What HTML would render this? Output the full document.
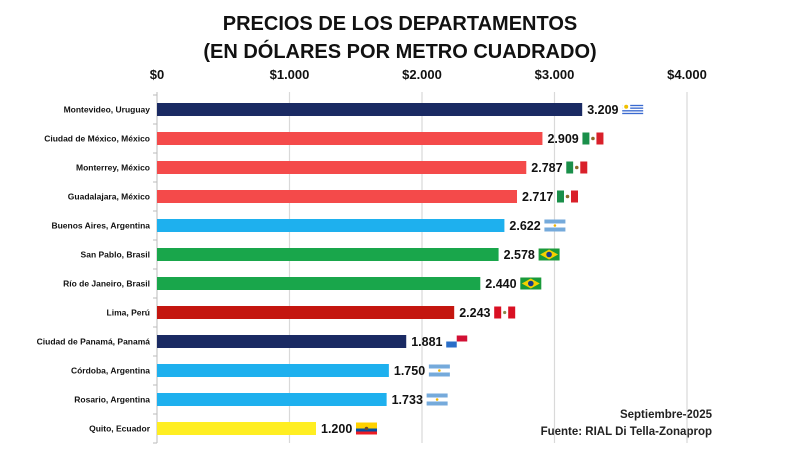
<!DOCTYPE html>
<html><head><meta charset="utf-8"><style>
body{margin:0;background:#fff;}
svg{display:block;font-family:"Liberation Sans",Arial,sans-serif;}
</style></head><body>
<svg id="c" width="800" height="450">
<text x="400" y="30" text-anchor="middle" font-size="20" font-weight="bold" fill="#111">PRECIOS DE LOS DEPARTAMENTOS</text>
<text x="400" y="58" text-anchor="middle" font-size="20" font-weight="bold" fill="#111">(EN DÓLARES POR METRO CUADRADO)</text>
<text x="712" y="418" text-anchor="end" font-size="11.5" font-weight="bold" fill="#222">Septiembre-2025</text>
<text x="712" y="435" text-anchor="end" font-size="11.5" font-weight="bold" fill="#222">Fuente: RIAL Di Tella-Zonaprop</text>
</svg>
<script>
const categories=["Montevideo, Uruguay","Ciudad de México, México","Monterrey, México","Guadalajara, México","Buenos Aires, Argentina","San Pablo, Brasil","Río de Janeiro, Brasil","Lima, Perú","Ciudad de Panamá, Panamá","Córdoba, Argentina","Rosario, Argentina","Quito, Ecuador"];
const values=[3209,2909,2787,2717,2622,2578,2440,2243,1881,1750,1733,1200];
const valueLabels=["3.209","2.909","2.787","2.717","2.622","2.578","2.440","2.243","1.881","1.750","1.733","1.200"];
const countries=["uy","mx","mx","mx","ar","br","br","pe","pa","ar","ar","ec"];
const tickValues=[0,1000,2000,3000,4000];
const tickLabels=["$0","$1.000","$2.000","$3.000","$4.000"];

const NS="http://www.w3.org/2000/svg";
const svg=document.getElementById('c');
const x0=157,x1=687,maxV=4000,topY=95,step=29,barH=13;
const xs=v=>x0+(v/maxV)*(x1-x0);
const yc=i=>topY+step*(i+0.5);
const colors={uy:"#1a2a63",mx:"#f44a4a",ar:"#1eb0ee",br:"#19a64b",pe:"#c4160f",pa:"#1a2a63",ec:"#ffee22"};
function mk(t,a,p){const e=document.createElementNS(NS,t);for(const k in a)e.setAttribute(k,a[k]);(p||svg).appendChild(e);return e;}
const bottomY=topY+step*categories.length;
tickValues.forEach((v,i)=>{
  if(v>0){const g=mk('line',{x1:xs(v),x2:xs(v),y1:topY-3,y2:bottomY,stroke:'#d9d9d9','stroke-width':1.2});
  
  }
  const t=mk('text',{x:xs(v),y:79,'text-anchor':'middle','font-size':13,'font-weight':'bold',fill:'#111'});
  t.textContent=tickLabels[i];
  
  
});
const ax=mk('line',{x1:x0,x2:x0,y1:topY-3,y2:bottomY,stroke:'#bbb','stroke-width':1});


for(let i=0;i<=categories.length;i++){mk('line',{x1:x0-4,x2:x0,y1:topY+step*i,y2:topY+step*i,stroke:'#bbb'});}
function flag(c,fx,fy){
  const g=mk('g',{transform:`translate(${fx},${fy})`});
  
  
  const w=21,h=12;
  if(c==='mx'){mk('rect',{width:7,height:h,fill:'#1a8f4a'},g);mk('rect',{x:7,width:7,height:h,fill:'#fff'},g);mk('rect',{x:14,width:7,height:h,fill:'#d9202a'},g);mk('circle',{cx:10.5,cy:6,r:1.8,fill:'#8a6a2a'},g);}
  else if(c==='ar'){mk('rect',{width:w,height:h,fill:'#fff'},g);mk('rect',{width:w,height:4,fill:'#75aadb'},g);mk('rect',{y:8,width:w,height:4,fill:'#75aadb'},g);mk('circle',{cx:10.5,cy:6,r:1.3,fill:'#f0b400'},g);}
  else if(c==='br'){mk('rect',{width:w,height:h,fill:'#1a9a3a'},g);mk('polygon',{points:'10.5,1 19.5,6 10.5,11 1.5,6',fill:'#f5d000'},g);mk('circle',{cx:10.5,cy:6,r:2.8,fill:'#1a3a8a'},g);}
  else if(c==='pe'){mk('rect',{width:w,height:h,fill:'#d91023'},g);mk('rect',{x:7,width:7,height:h,fill:'#fff'},g);mk('circle',{cx:10.5,cy:6,r:1.6,fill:'#8a8a4a'},g);}
  else if(c==='uy'){mk('rect',{width:w,height:h,fill:'#fff'},g);for(let k=1;k<9;k+=2)mk('rect',{y:k*1.33,width:w,height:1.33,fill:'#3a6ad0'},g);mk('rect',{width:8,height:6.5,fill:'#fff'},g);mk('circle',{cx:4,cy:3.2,r:2,fill:'#f0c000'},g);}
  else if(c==='pa'){mk('rect',{width:w,height:h,fill:'#fff'},g);mk('rect',{x:10.5,width:10.5,height:6,fill:'#d21034'},g);mk('rect',{y:6,width:10.5,height:6,fill:'#2a6ec8'},g);}
  else if(c==='ec'){mk('rect',{width:w,height:6,fill:'#ffd100'},g);mk('rect',{y:6,width:w,height:3,fill:'#034ea2'},g);mk('rect',{y:9,width:w,height:3,fill:'#ed1c24'},g);mk('circle',{cx:10.5,cy:6,r:1.8,fill:'#6a4a2a'},g);}
}
categories.forEach((c,i)=>{
  const y=yc(i);
  const lab=mk('text',{x:x0-7,y:y+3,'text-anchor':'end','font-size':8.5,'font-weight':'bold',fill:'#111'});
  lab.textContent=c;
  
  
  const r=mk('rect',{x:x0,y:y-barH/2,width:xs(values[i])-x0,height:barH,fill:colors[countries[i]]});
  
  
  const vl=mk('text',{x:xs(values[i])+5,y:y+4.5,'font-size':12.5,'font-weight':'bold',fill:'#111'});
  vl.textContent=valueLabels[i];
  
  
  flag(countries[i],xs(values[i])+40,y-6);
});
</script>
</body></html>
